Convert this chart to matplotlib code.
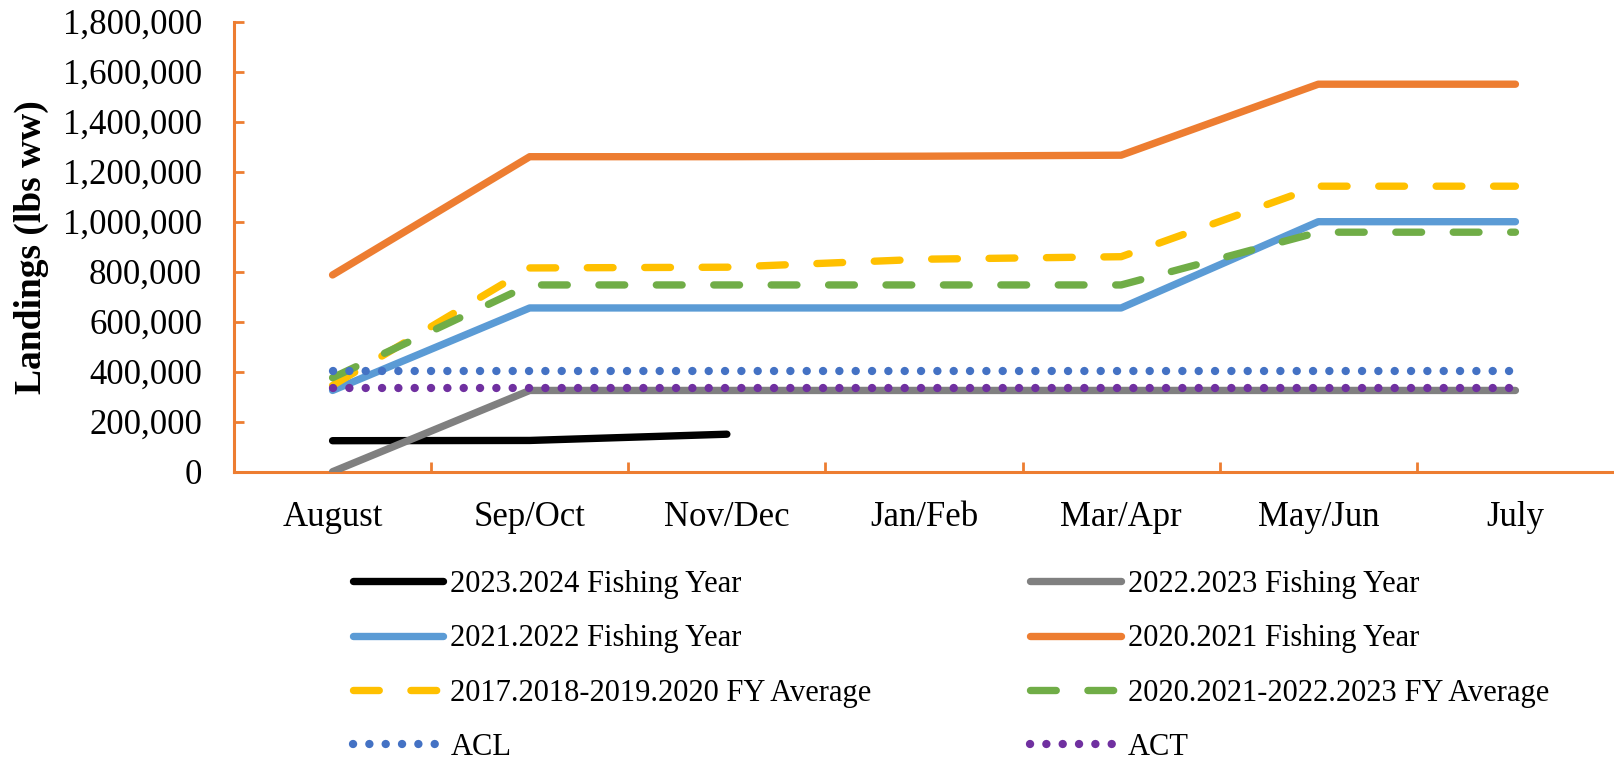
import matplotlib
matplotlib.use("Agg")
import matplotlib.pyplot as plt
from matplotlib.ticker import FuncFormatter, FixedLocator

categories = ['August', 'Sep/Oct', 'Nov/Dec', 'Jan/Feb', 'Mar/Apr', 'May/Jun', 'July']
fy2324 = [124000, 125000, 150000]
fy2223 = [0, 325000, 325000, 325000, 325000, 325000, 325000]
fy2122 = [325000, 655000, 655000, 655000, 655000, 1000000, 1000000]
fy2021 = [787000, 1260000, 1260000, 1262000, 1266000, 1550000, 1550000]
avg1720 = [345000, 815000, 818000, 850000, 860000, 1142000, 1142000]
avg2023 = [376000, 747000, 747000, 747000, 747000, 958000, 958000]
acl = [404000] * 7
act = [333000] * 7

labels = ['2023.2024 Fishing Year', '2022.2023 Fishing Year', '2021.2022 Fishing Year',
          '2020.2021 Fishing Year', '2017.2018-2019.2020 FY Average',
          '2020.2021-2022.2023 FY Average', 'ACL', 'ACT']

plt.rcParams['font.family'] = ['Liberation Serif', 'DejaVu Serif']

fig = plt.figure(figsize=(16.14, 7.64), dpi=100)
ax = fig.add_axes([234 / 1614, 1 - 471.7 / 764, 1 - 234 / 1614, (471.7 - 21.7) / 764])

ORANGE = '#ED7D31'
x_all = list(range(len(categories)))
lw = 5.3
dash = (0, (3.5, 4.3))
dot = (0, (0.01, 1.95))

series = [
    (fy2324, '#000000', '-', lw),
    (fy2223, '#808080', '-', lw),
    (fy2122, '#5B9BD5', '-', lw),
    (fy2021, ORANGE, '-', lw),
    (avg1720, '#FFC000', dash, lw),
    (avg2023, '#70AD47', dash, lw),
    (acl, '#4472C4', dot, 6),
    (act, '#7030A0', dot, 6),
]
handles = []
for i, (vals, col, ls, w) in enumerate(series):
    h, = ax.plot(x_all[:len(vals)], vals, color=col, linestyle=ls, linewidth=w,
                 solid_capstyle='round', dash_capstyle='round', solid_joinstyle='round',
                 zorder=2 + i, label=labels[i])
    handles.append(h)

ax.set_xlim(-0.5, 6.5)
ax.set_ylim(0, 1800000)
ax.set_yticks(range(0, 1800001, 200000))
ax.yaxis.set_major_formatter(FuncFormatter(lambda v, p: f"{int(v):,}"))
ax.set_xticks(x_all)
ax.set_xticklabels(categories)
ax.xaxis.set_minor_locator(FixedLocator([0.5, 1.5, 2.5, 3.5, 4.5, 5.5]))

for s in ['top', 'right']:
    ax.spines[s].set_visible(False)
for s in ['left', 'bottom']:
    ax.spines[s].set_color(ORANGE)
    ax.spines[s].set_linewidth(2.2)

ax.tick_params(axis='y', which='major', direction='in', length=7.2, width=2,
               color=ORANGE, labelsize=25, pad=23)
ax.tick_params(axis='x', which='major', length=0, labelsize=25, pad=21)
ax.tick_params(axis='x', which='minor', direction='in', length=7.2, width=2, color=ORANGE)

fig.text(31 / 1614, 1 - 246.7 / 764, 'Landings (lbs ww)', rotation=90,
         fontsize=27, fontweight='bold', ha='center', va='center')

order = [0, 2, 4, 6, 1, 3, 5, 7]
leg = fig.legend([handles[i] for i in order], [labels[i] for i in order],
                 ncol=2, frameon=False, fontsize=22,
                 loc='center', bbox_to_anchor=(951 / 1614, 1 - 666 / 764),
                 handlelength=2.95, handletextpad=0.25, columnspacing=5.2,
                 labelspacing=0.83, borderpad=0, borderaxespad=0)

fig.savefig('out.png', dpi=100)
